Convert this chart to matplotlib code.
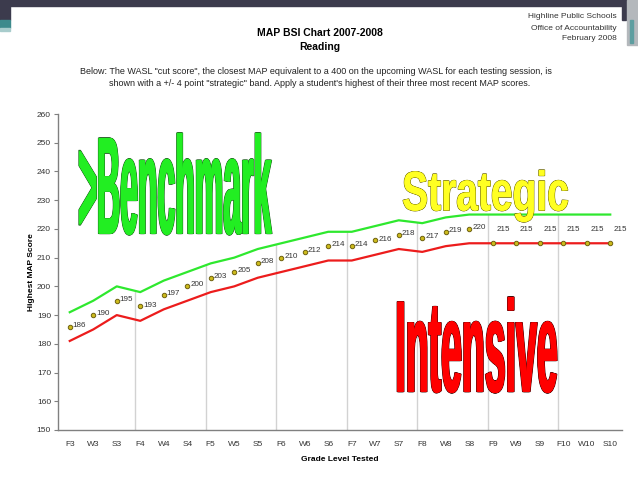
import matplotlib
matplotlib.use('Agg')
import matplotlib.pyplot as plt
import matplotlib.patheffects as pe
import numpy as np
from matplotlib.colors import to_rgba
from matplotlib.transforms import Affine2D
from matplotlib.patches import Rectangle


########################################################################
### Data ###
########################################################################

#testing sessions (fall, winter, spring for grades 3 to 10)
sessions = ['F3', 'W3', 'S3', 'F4', 'W4', 'S4', 'F5', 'W5', 'S5',
            'F6', 'W6', 'S6', 'F7', 'W7', 'S7', 'F8', 'W8', 'S8',
            'F9', 'W9', 'S9', 'F10', 'W10', 'S10']

#WASL cut score equivalents
cut_score = [186, 190, 195, 193, 197, 200, 203, 205, 208, 210, 212, 214,
             214, 216, 218, 217, 219, 220, 215, 215, 215, 215, 215, 215]

#upper edge of strategic band
benchmark = [191, 195, 200, 198, 202, 205, 208, 210, 213, 215, 217, 219,
             219, 221, 223, 222, 224, 225, 225, 225, 225, 225, 225, 225]

#lower edge of strategic band
intensive = [181, 185, 190, 188, 192, 195, 198, 200, 203, 205, 207, 209,
             209, 211, 213, 212, 214, 215, 215, 215, 215, 215, 215, 215]

yticks = list(range(150, 261, 10))


########################################################################
### Path effect that stretches a text into a box (word art) ###
########################################################################
class FitBox(pe.AbstractPathEffect):

    '''
    Draws the text path stretched into a box given in data coordinates.
    Vertical stems are made heavier by drawing copies shifted sideways.
    '''

    def __init__(self, ax, box, face, edge, bold):
        super().__init__()
        self.ax = ax
        self.box = box
        self.face = to_rgba(face)
        self.edge = edge
        self.bold = bold

    def draw_path(self, renderer, gc, tpath, affine, rgbFace=None):
        (x0, y0), (x1, y1) = self.ax.transData.transform(self.box)
        x1 = x1 - self.bold
        bb = tpath.get_extents(affine)
        fit = (Affine2D().translate(-bb.x0, -bb.y0)
               .scale((x1 - x0) / bb.width, (y1 - y0) / bb.height)
               .translate(x0, y0))
        shifts = np.linspace(0, self.bold, int(self.bold / 0.5) + 1)

        gc0 = renderer.new_gc()
        gc0.copy_properties(gc)
        gc0.set_joinstyle('round')

        #outline pass
        gc0.set_foreground(self.edge)
        gc0.set_linewidth(0.7)
        for s in shifts:
            t = affine + fit + Affine2D().translate(s, 0)
            renderer.draw_path(gc0, tpath, t, self.face)

        #fill pass
        gc0.set_linewidth(0)
        for s in shifts:
            t = affine + fit + Affine2D().translate(s, 0)
            renderer.draw_path(gc0, tpath, t, self.face)
        gc0.restore()


########################################################################
### Figure ###
########################################################################
plt.rcParams['font.family'] = ['Liberation Sans', 'DejaVu Sans']

fig = plt.figure(figsize=(6.38, 4.79), dpi=100)
ax = fig.add_axes([58 / 638, 1 - 430 / 479, 564 / 638, 316 / 479])

#slide frame
W, H = 638, 479
def frame(x, y, w, h, color):
    fig.patches.append(Rectangle((x / W, 1 - (y + h) / H), w / W, h / H,
                                 transform=fig.transFigure, color=color,
                                 zorder=0))
frame(0, 0, 638, 6, '#3c3b4d')
frame(0, 0, 10, 20, '#3c3b4d')
frame(0, 20, 10, 8, '#3d8a8c')
frame(0, 28, 10, 3, '#a8cccc')
frame(622, 0, 4, 20, '#3c3b4d')
frame(627, 0, 11, 45, '#b4b8bc')
frame(630, 20, 3, 23, '#5e9ea0')

#x positions
xs = list(range(len(sessions)))

#vertical gridlines before each fall session
for i in range(3, len(sessions), 3):
    ax.vlines(i - 0.22, 150, 259, color='#d2d2d2', lw=1.0, zorder=1)

#white area above the benchmark line hides the gridlines
ax.fill_between(xs, benchmark, 262, color='white', lw=0, zorder=1.5)

#band lines
ax.plot(xs, benchmark, color='#2ee82e', lw=1.6, zorder=2)
ax.plot(xs, intensive, color='#ec1c1c', lw=1.6, zorder=2)

#cut score markers
ax.plot(xs, cut_score, ls='none', marker='o', ms=3.2, mfc='#cdbb1c',
        mec='#6e6010', mew=0.7, zorder=3)

#data labels
for i, v in enumerate(cut_score):
    if i < 18:
        off = (2.2, 1.0)
    else:
        off = (2.5, 10.0)
    ax.annotate(str(v), (i, v), xytext=off, textcoords='offset points',
                ha='left', va='center', fontsize=5.8, color='#333333',
                zorder=3)

#word art labels
art = [
    ('>Benchmark', (0.39, 217.9), (8.61, 253.4), '#22ee22', '#1d5a1d', 1.5),
    ('Strategic', (14.18, 222.4), (21.2, 240.5), '#ffff22', '#6a6400', 0.5),
    ('Intensive', (13.93, 162.9), (20.74, 196.3), '#ff0000', '#3a0000', 1.5),
    ]
for word, lo, hi, face, edge, bold in art:
    ax.text(lo[0], lo[1], word, fontsize=24, fontweight='bold',
            family=['Liberation Sans Narrow', 'Liberation Sans'],
            ha='left', va='bottom', zorder=5,
            path_effects=[FitBox(ax, [lo, hi], face, edge, bold)])

#axes limits and ticks
ax.set_xlim(-0.5, len(sessions) - 0.5)
ax.set_ylim(150, 260)
ax.set_xticks(xs)
ax.set_xticklabels(sessions, fontsize=6, color='#333333')
ax.set_yticks(yticks)
ax.set_yticklabels([str(t) for t in yticks], fontsize=6, color='#333333')
ax.tick_params(axis='x', length=0, pad=8)
ax.tick_params(axis='y', length=3, width=0.8, color='#808080', pad=2)

#spines
for s in ['top', 'right']:
    ax.spines[s].set_visible(False)
for s in ['left', 'bottom']:
    ax.spines[s].set_color('#808080')
    ax.spines[s].set_linewidth(1.0)

#axis labels
ax.set_xlabel('Grade Level Tested', fontsize=6, fontweight='bold',
              labelpad=6)
ax.set_ylabel('Highest MAP Score', fontsize=6, fontweight='bold',
              labelpad=1)

#titles
fig.text(320 / W, 1 - 33 / H, 'MAP BSI Chart 2007-2008', ha='center',
         va='center', fontsize=7.5, fontweight='bold')
fig.text(320 / W, 1 - 47 / H, 'Reading', ha='center', va='center',
         fontsize=7.5, fontweight='bold')
fig.text(316 / W, 1 - 71 / H,
         'Below: The WASL "cut score", the closest MAP equivalent to a 400 '
         'on the upcoming WASL for each testing session, is',
         ha='center', va='center', fontsize=6.5, color='#222222')
fig.text(320 / W, 1 - 83 / H,
         'shown with a +/- 4 point "strategic" band. Apply a student\'s '
         'highest of their three most recent MAP scores.',
         ha='center', va='center', fontsize=6.5, color='#222222')

#school info
for k, line in enumerate(['Highline Public Schools',
                          'Office of Accountability', 'February 2008']):
    fig.text(617 / W, 1 - (17 + 11 * k) / H, line, ha='right', va='center',
             fontsize=6, color='#333333')

#save
fig.savefig('out.png', dpi=100)
